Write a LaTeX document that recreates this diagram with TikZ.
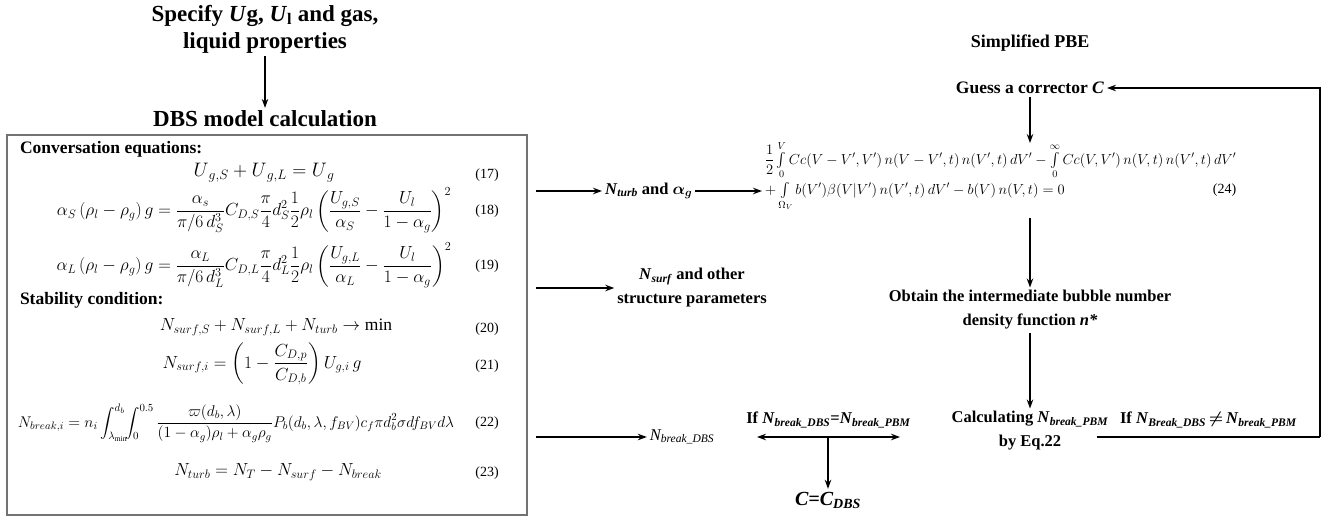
\RequirePackage{fix-cm}
\documentclass[tikz,border=0pt]{standalone}
\usepackage{amsmath}
\usepackage{fontspec}
\setmainfont{Liberation Serif}
\usetikzlibrary{arrows.meta,calc}
\newcommand{\tint}{\mathop{\textstyle\int}\limits}
\begin{document}
\begin{tikzpicture}[x=1pt,y=-1pt,
  every node/.style={inner sep=0pt, outer sep=3pt},
  hd/.style={font=\fontsize{23}{27}\selectfont\bfseries, align=center},
  sec/.style={font=\fontsize{17.5}{20}\selectfont\bfseries},
  lbl/.style={font=\fontsize{16.5}{24}\selectfont\bfseries, align=center},
  eq/.style={font=\fontsize{17.5}{20}\selectfont},
  eqs/.style={font=\fontsize{14.5}{18}\selectfont},
  num/.style={font=\fontsize{14}{16}\selectfont},
  arr/.style={-{Stealth[length=9pt,width=6.5pt]}, line width=1.3pt},
  darr/.style={{Stealth[length=9pt,width=6.5pt]}-{Stealth[length=9pt,width=6.5pt]}, line width=1.3pt},
  ln/.style={line width=1.3pt},
  boxline/.style={draw=black!55, line width=1.2pt}
]
\useasboundingbox (0,0) rectangle (1330,530);
% left column
\node[hd] (spec) at (265,29) {Specify \textit{U}g, \textit{U}\textsubscript{l} and gas,\\liquid properties};
\node[hd] (dbs) at (265,119) {DBS model calculation};
\draw[arr] (spec.south) -- (dbs.north);
\draw[boxline] (7,135) rectangle (527,515);
\node[sec, anchor=west] (conv) at (17,149) {Conversation equations:};
\node[eq, font=\fontsize{19.5}{22}\selectfont] (e17) at (264,173) {$U_{\,g,S}+U_{\,g,L}=U_{\,g}$};
\node[num] (n17) at (487,175) {(17)};
\node[eq] (e18) at (254,210) {$\displaystyle \alpha_S\left(\rho_l-\rho_g\right)g=\frac{\alpha_s}{\pi/6\,d_S^3}C_{D,S}\frac{\pi}{4}d_S^2\frac{1}{2}\rho_l\left(\frac{U_{g,S}}{\alpha_S}-\frac{U_l}{1-\alpha_g}\right)^{2}$};
\node[num] (n18) at (487,211) {(18)};
\node[eq] (e19) at (254,265) {$\displaystyle \alpha_L\left(\rho_l-\rho_g\right)g=\frac{\alpha_L}{\pi/6\,d_L^3}C_{D,L}\frac{\pi}{4}d_L^2\frac{1}{2}\rho_l\left(\frac{U_{g,L}}{\alpha_L}-\frac{U_l}{1-\alpha_g}\right)^{2}$};
\node[num] (n19) at (487,266) {(19)};
\node[sec, anchor=west] (stab) at (17,300) {Stability condition:};
\node[eq] (e20) at (276,327) {$N_{surf,S}+N_{surf,L}+N_{turb}\rightarrow\min$};
\node[num] (n20) at (487,329) {(20)};
\node[eq] (e21) at (262,364) {$\displaystyle N_{surf,i}=\left(1-\frac{C_{D,p}}{C_{D,b}}\right)U_{g,i}\,g$};
\node[num] (n21) at (487,366) {(21)};
\node[eq, font=\fontsize{15.5}{20}\selectfont] (e22) at (236,423) {$\displaystyle N_{break,i}=n_i\int_{\lambda_{\min}}^{d_b}\!\!\int_0^{0.5}\frac{\varpi(d_b,\lambda)}{(1-\alpha_g)\rho_l+\alpha_g\rho_g}P_b(d_b,\lambda,f_{BV})c_f\pi d_b^2\sigma df_{BV}d\lambda$};
\node[num] (n22) at (487,423) {(22)};
\node[eq] (e23) at (278,472) {$N_{turb}=N_T-N_{surf}-N_{break}$};
\node[num] (n23) at (487,473) {(23)};
% middle
\coordinate (a1) at (536,191);
\coordinate (a3) at (536,437);
\node[lbl, anchor=west] (nturb) at (602,191) {\textit{N}\textsubscript{\textit{turb}} and $\boldsymbol{\alpha}_{\boldsymbol{g}}$};
\draw[arr] (a1) -- (nturb.west);
\node[lbl] (nsurf) at (692,288) {\textit{N}\textsubscript{\textit{surf}} and other\\structure parameters};
\coordinate (a2) at (536,288);
\draw[arr] (a2) -- (a2 -| nsurf.west);
\node[font=\fontsize{16.5}{20}\selectfont\itshape] (nbreak) at (682,437) {N\textsubscript{break\_DBS}};
\draw[arr] (a3) -- (a3 -| nbreak.west);
% right column
\node[hd, font=\fontsize{18}{22}\selectfont\bfseries] (pbe) at (1030,43) {Simplified PBE};
\node[lbl, font=\fontsize{17.5}{22}\selectfont\bfseries] (guess) at (1030,88) {Guess a corrector \textit{C}};
\node[eqs, anchor=west] (p1) at (762,160) {$\displaystyle \frac{1}{2}\tint_0^V Cc(V-V',V')\,n(V-V',t)\,n(V',t)\,dV'-\tint_0^\infty Cc(V,V')\,n(V,t)\,n(V',t)\,dV'$};
\node[eqs, anchor=west] (p2) at (762,197) {$\displaystyle +\tint_{\Omega_V} b(V')\beta(V|V')\,n(V',t)\,dV'-b(V)\,n(V,t)=0$};
\node[num, anchor=north east] (n24) at ([yshift=1pt]p1.south east) {(24)};
\coordinate (pbetop) at (1030,143);
\coordinate (pbebot) at (1030,218);
\draw[arr] (guess.south) -- (pbetop);
\draw[arr] (nturb.east) -- (p2.west |- nturb.east);
\node[lbl] (obtain) at (1030,310) {Obtain the intermediate bubble number\\density function \textit{n*}};
\draw[arr] (pbebot) -- (obtain.north);
\node[lbl] (calc) at (1030,431) {Calculating \textit{N}\textsubscript{\textit{break\_PBM}}\\by Eq.22};
\draw[arr] (obtain.south) -- (calc.north);
\coordinate (dl) at (757,437);
\coordinate (dr) at (900,437);
\draw[darr] (dl) -- node[lbl, above=6pt] (ifeq) {If \textit{N}\textsubscript{\textit{break\_DBS}}=\textit{N}\textsubscript{\textit{break\_PBM}}} (dr);
\node[font=\fontsize{20}{24}\selectfont\bfseries\itshape] (cdbs) at (828,500) {C=C\textsubscript{DBS}};
\draw[arr] (828,437) -- (cdbs.north);
\coordinate (lp1) at (1097,437);
\coordinate (lp2) at (1320,437);
\coordinate (lp3) at (1320,88);
\draw[ln] (lp1) -- node[lbl, above=6pt] (ifneq) {If \textit{N}\textsubscript{\textit{Break\_DBS}}\,$\boldsymbol{\neq}$\,\textit{N}\textsubscript{\textit{break\_PBM}}} (lp2);
\draw[arr] (lp2) -- (lp3) -- (guess.east);
\end{tikzpicture}
\end{document}
